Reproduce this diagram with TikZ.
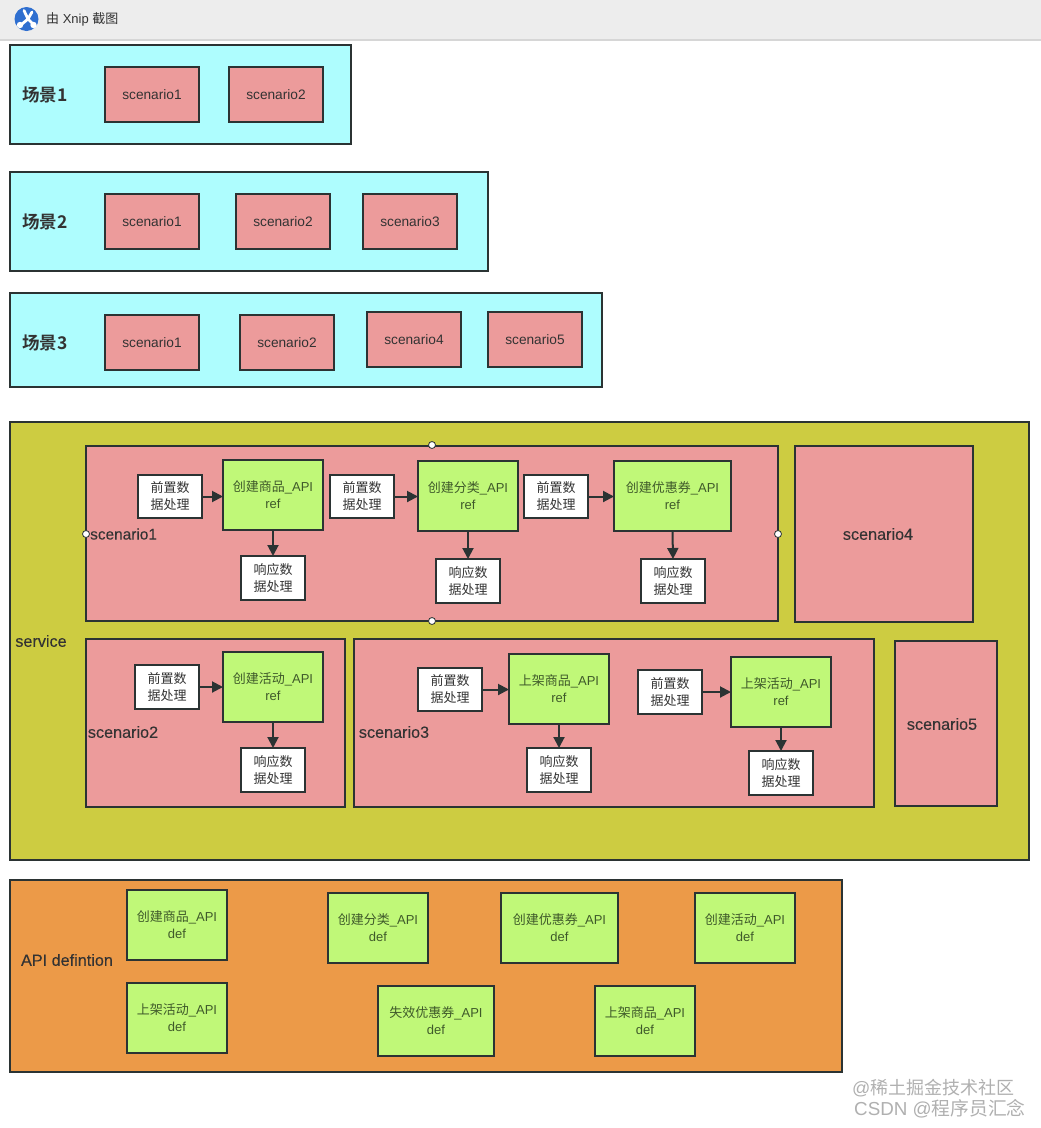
\documentclass[tikz,border=0pt]{standalone}
\usepackage{fontspec}
\usetikzlibrary{arrows.meta,calc}
\setmainfont{Liberation Sans}
\newfontfamily\cjk{Noto Sans CJK SC}
\newfontfamily\cjkb{Noto Sans CJK SC Bold}
\newfontfamily\medf[FakeBold=0.15]{Liberation Sans}
\definecolor{edge}{HTML}{2B3333}
\definecolor{cyanbg}{HTML}{AEFDFE}
\definecolor{pinkbg}{HTML}{EC9B9B}
\definecolor{olivebg}{HTML}{CDCC41}
\definecolor{orangebg}{HTML}{EC9A48}
\definecolor{greenbg}{HTML}{C0F878}
\definecolor{greentxt}{HTML}{3F5A2A}
\definecolor{txt}{HTML}{333333}
\definecolor{iconblue}{HTML}{2F6FD0}
\tikzset{
 x=1pt,y=-1pt,
 basebox/.style={draw=edge,line width=2pt,inner sep=0pt,align=center,text=txt,font=\fontsize{13}{17}\selectfont},
 sc/.style={basebox,fill=cyanbg},
 pk/.style={basebox,fill=pinkbg,font=\fontsize{13.7}{17}\selectfont},
 ol/.style={basebox,fill=olivebg},
 og/.style={basebox,fill=orangebg},
 gn/.style={basebox,fill=greenbg,text=greentxt},
 wh/.style={basebox,fill=white,font=\fontsize{13}{17}\selectfont},
 lbl/.style={inner sep=0pt,text=txt,font=\fontsize{16.2}{18}\medf},
 biglbl/.style={inner sep=0pt,text=txt,font=\fontsize{17.5}{20}\cjkb},
 arr/.style={draw=edge,line width=2pt,-{Triangle[length=11pt,width=11pt]},shorten >=-1pt},
 handle/.style={circle,draw=edge,fill=white,line width=0.8pt,minimum size=7pt,inner sep=0pt},
 wmark/.style={inner sep=0pt,text=gray!62,font=\fontsize{18}{20}\selectfont}
}
% name, x0, y0, x1, y1, style, text
\newcommand{\bx}[7]{\node[#6,minimum width=#4pt-#2pt,minimum height=#5pt-#3pt] (#1) at ({(#2+#4)/2},{(#3+#5)/2}) {#7};}
\newcommand{\pre}{{\cjk 前置数}\\{\cjk 据处理}}
\newcommand{\resp}{{\cjk 响应数}\\{\cjk 据处理}}
\begin{document}
\begin{tikzpicture}
\useasboundingbox (0,0) rectangle (1041,1128);
\fill[white] (0,0) rectangle (1041,1128);
% title bar
\fill[black!7] (0,0) rectangle (1041,38.5);
\fill[black!16] (0,38.5) rectangle (1041,40.5);
\fill[iconblue] (26.5,19) circle (12);
\draw[white,line width=2.8pt,line cap=round] (24,10.5) -- (28,19) -- (22,24) (32,12) -- (28,19) -- (33,24);
\fill[white] (20,25) circle (3.2) (33.5,25) circle (3.2);
\node[inner sep=0pt,anchor=west,text=txt,font=\fontsize{13}{15}\selectfont] (bar) at (46,19) {{\cjk 由} Xnip {\cjk 截图}};
% scene 1
\bx{s1}{10}{45}{351}{144}{sc}{}
\node[biglbl] (s1t) at (45,95) {场景1};
\bx{s1a}{105}{67}{199}{122}{pk}{scenario1}
\bx{s1b}{229}{67}{323}{122}{pk}{scenario2}
% scene 2
\bx{s2}{10}{172}{488}{271}{sc}{}
\node[biglbl] (s2t) at (45,222) {场景2};
\bx{s2a}{105}{194}{199}{249}{pk}{scenario1}
\bx{s2b}{236}{194}{330}{249}{pk}{scenario2}
\bx{s2c}{363}{194}{457}{249}{pk}{scenario3}
% scene 3
\bx{s3}{10}{293}{602}{387}{sc}{}
\node[biglbl] (s3t) at (45,343) {场景3};
\bx{s3a}{105}{315}{199}{370}{pk}{scenario1}
\bx{s3b}{240}{315}{334}{370}{pk}{scenario2}
\bx{s3c}{367}{312}{461}{367}{pk}{scenario4}
\bx{s3d}{488}{312}{582}{367}{pk}{scenario5}
% service
\bx{svc}{10}{422}{1029}{860}{ol}{}
\node[lbl] (svct) at (41,641) {service};
\bx{p1}{86}{446}{778}{621}{pk}{}
\bx{p4}{795}{446}{973}{622}{pk}{}
\bx{p2}{86}{639}{345}{807}{pk}{}
\bx{p3}{354}{639}{874}{807}{pk}{}
\bx{p5}{895}{641}{997}{806}{pk}{}
\node[lbl,anchor=west,font=\fontsize{15.4}{18}\medf] (p1t) at (90,534) {scenario1};
\node[lbl] (p4t) at (878,534) {scenario4};
\node[lbl] (p2t) at (123,732) {scenario2};
\node[lbl] (p3t) at (394,732) {scenario3};
\node[lbl] (p5t) at (942,724) {scenario5};
\node[handle] (h1) at (432,445) {};
\node[handle] (h2) at (86,534) {};
\node[handle] (h3) at (778,534) {};
\node[handle] (h4) at (432,621) {};
% scenario1 contents
\bx{a1}{138}{475}{202}{518}{wh}{\pre}
\bx{b1}{223}{460}{323}{530}{gn}{{\cjk 创建商品}\_API\\ref}
\bx{c1}{241}{556}{305}{600}{wh}{\resp}
\bx{a2}{330}{475}{394}{518}{wh}{\pre}
\bx{b2}{418}{461}{518}{531}{gn}{{\cjk 创建分类}\_API\\ref}
\bx{c2}{436}{559}{500}{603}{wh}{\resp}
\bx{a3}{524}{475}{588}{518}{wh}{\pre}
\bx{b3}{614}{461}{731}{531}{gn}{{\cjk 创建优惠券}\_API\\ref}
\bx{c3}{641}{559}{705}{603}{wh}{\resp}
% scenario2 contents
\bx{a4}{135}{665}{199}{709}{wh}{\pre}
\bx{b4}{223}{652}{323}{722}{gn}{{\cjk 创建活动}\_API\\ref}
\bx{c4}{241}{748}{305}{792}{wh}{\resp}
% scenario3 contents
\bx{a5}{418}{668}{482}{711}{wh}{\pre}
\bx{b5}{509}{654}{609}{724}{gn}{{\cjk 上架商品}\_API\\ref}
\bx{c5}{527}{748}{591}{792}{wh}{\resp}
\bx{a6}{638}{670}{702}{714}{wh}{\pre}
\bx{b6}{731}{657}{831}{727}{gn}{{\cjk 上架活动}\_API\\ref}
\bx{c6}{749}{751}{813}{795}{wh}{\resp}
\foreach \i in {1,...,6}{
  \draw[arr] (a\i.east) -- (a\i.east -| b\i.west);
  \draw[arr] (b\i.south) -- (c\i.north);
}
% API definition
\bx{api}{10}{880}{842}{1072}{og}{}
\node[lbl] (apit) at (67,960) {API defintion};
\bx{d1}{127}{890}{227}{960}{gn}{{\cjk 创建商品}\_API\\def}
\bx{d2}{328}{893}{428}{963}{gn}{{\cjk 创建分类}\_API\\def}
\bx{d3}{501}{893}{618}{963}{gn}{{\cjk 创建优惠券}\_API\\def}
\bx{d4}{695}{893}{795}{963}{gn}{{\cjk 创建活动}\_API\\def}
\bx{d5}{127}{983}{227}{1053}{gn}{{\cjk 上架活动}\_API\\def}
\bx{d6}{378}{986}{494}{1056}{gn}{{\cjk 失效优惠券}\_API\\def}
\bx{d7}{595}{986}{695}{1056}{gn}{{\cjk 上架商品}\_API\\def}
% watermark
\node[wmark,anchor=west] (w1) at (852,1088) {@{\cjk 稀土掘金技术社区}};
\node[wmark,anchor=west,font=\fontsize{18.8}{20}\selectfont] (w2) at (854,1109) {CSDN @{\cjk 程序员汇念}};
\end{tikzpicture}
\end{document}
